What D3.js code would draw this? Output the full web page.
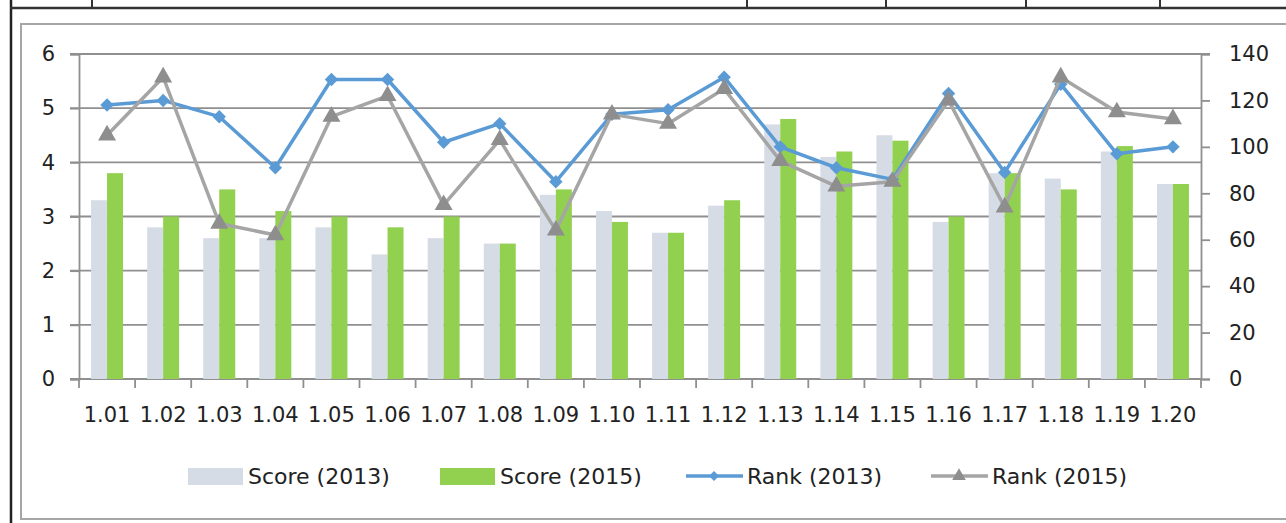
<!DOCTYPE html>
<html lang="en">
<head>
<meta charset="utf-8">
<script src="https://d3js.org/d3.v7.min.js"></script>
<style type="text/css">
body {
	margin: 0;
	background-color: #fff;
	font-family: "DejaVu Sans", sans-serif;
}
.axis text {
	font: 21px "DejaVu Sans", sans-serif;
	fill: #222;
}
.legend text {
	font: 22px "DejaVu Sans", sans-serif;
	fill: #222;
}
</style>
</head>
<body>
<div class="chart"></div>
<script type="text/javascript">
// chart data
var categories = ["1.01","1.02","1.03","1.04","1.05","1.06","1.07","1.08","1.09","1.10",
                  "1.11","1.12","1.13","1.14","1.15","1.16","1.17","1.18","1.19","1.20"];
var score2013 = [3.3,2.8,2.6,2.6,2.8,2.3,2.6,2.5,3.4,3.1,2.7,3.2,4.7,4.1,4.5,2.9,3.8,3.7,4.2,3.6];
var score2015 = [3.8,3.0,3.5,3.1,3.0,2.8,3.0,2.5,3.5,2.9,2.7,3.3,4.8,4.2,4.4,3.0,3.8,3.5,4.3,3.6];
var rank2013 = [118,120,113,91,129,129,102,110,85,114,116,130,100,91,86,123,89,127,97,100];
var rank2015 = [105,130,67,62,113,122,75,103,64,114,110,125,94,83,85,120,74,130,115,112];
var leftTicks = [0,1,2,3,4,5,6];
var rightTicks = [0,20,40,60,80,100,120,140];
var legendNames = ["Score (2013)","Score (2015)","Rank (2013)","Rank (2015)"];

var width = 1286, height = 523;
var gridColor = "#8f8f8f";

var svg = d3.select(".chart").append("svg")
	.attr("width", width)
	.attr("height", height);

// page table lines behind the chart
svg.append("line").attr("x1", 11).attr("x2", 11).attr("y1", 0).attr("y2", height)
	.style("stroke", "#222").style("stroke-width", 2.5);
svg.append("line").attr("x1", 10).attr("x2", width).attr("y1", 8).attr("y2", 8)
	.style("stroke", "#333").style("stroke-width", 2.5);
[92, 747, 886, 1026, 1160].forEach(function(x) {
	svg.append("line").attr("x1", x).attr("x2", x).attr("y1", 0).attr("y2", 8)
		.style("stroke", "#333").style("stroke-width", 2);
});

// chart frame
svg.append("rect")
	.attr("x", 21).attr("y", 24)
	.attr("width", width).attr("height", 495)
	.style("fill", "#fff")
	.style("stroke", "#a6a6a6")
	.style("stroke-width", 2);

var plotLeft = 79, plotRight = 1201, plotTop = 54, plotBottom = 379;

var x0 = d3.scaleBand().domain(categories).range([plotLeft, plotRight])
	.paddingInner(0.43).paddingOuter(0.215);
var x1 = d3.scaleBand().domain([0, 1]).range([0, x0.bandwidth()]);
var yL = d3.scaleLinear().domain([0, 6]).range([plotBottom, plotTop]);
var yR = d3.scaleLinear().domain([0, 140]).range([plotBottom, plotTop]);

// gridlines
svg.append("g").selectAll("line").data(leftTicks).enter().append("line")
	.attr("x1", plotLeft - 9).attr("x2", function(d) { return d === 6 ? plotRight + 9 : plotRight; })
	.attr("y1", function(d) { return yL(d); }).attr("y2", function(d) { return yL(d); })
	.style("stroke", gridColor).style("stroke-width", 1.8);

// left axis
var gl = svg.append("g").attr("class", "axis").attr("transform", "translate(" + plotLeft + ",0)")
	.call(d3.axisLeft(yL).tickValues(leftTicks).tickSize(9).tickPadding(15).tickFormat(d3.format("d")));
gl.select(".domain").style("stroke", gridColor).style("stroke-width", 1.8);
gl.selectAll(".tick line").style("stroke", gridColor).style("stroke-width", 1.8);

// right axis
var gr = svg.append("g").attr("class", "axis").attr("transform", "translate(" + plotRight + ",0)")
	.call(d3.axisRight(yR).tickValues(rightTicks).tickSize(9).tickPadding(19));
gr.select(".domain").style("stroke", gridColor).style("stroke-width", 1.8);
gr.selectAll(".tick line").style("stroke", gridColor).style("stroke-width", 1.8);

// bottom axis: ticks at category boundaries
var gb = svg.append("g").attr("class", "axis").attr("transform", "translate(0," + plotBottom + ")")
	.call(d3.axisBottom(x0).tickSize(0).tickPadding(28));
gb.select(".domain").style("stroke", gridColor).style("stroke-width", 1.8)
	.attr("d", "M" + plotLeft + ",0H" + plotRight);
var step = x0.step();
svg.append("g").selectAll("line").data(d3.range(categories.length + 1)).enter().append("line")
	.attr("x1", function(i) { return plotLeft + i * step; })
	.attr("x2", function(i) { return plotLeft + i * step; })
	.attr("y1", plotBottom).attr("y2", plotBottom + 9)
	.style("stroke", gridColor).style("stroke-width", 1.8);

// bars
var bars = [score2013, score2015];
var barColors = ["#d5dce6", "#92d050"];
bars.forEach(function(vals, s) {
	svg.append("g").selectAll("rect").data(vals).enter().append("rect")
		.attr("x", function(d, i) { return x0(categories[i]) + x1(s); })
		.attr("width", x1.bandwidth())
		.attr("y", function(d) { return yL(d); })
		.attr("height", function(d) { return plotBottom - yL(d); })
		.style("fill", barColors[s]);
});

// lines
var cx = function(d, i) { return x0(categories[i]) + x0.bandwidth() / 2; };
var line = d3.line().x(cx).y(function(d) { return yR(d); });
var lineColors = ["#5b9bd5", "#a5a5a5"];
var markColors = ["#5b9bd5", "#8e8e8e"];
var symbols = [d3.symbol().type(d3.symbolSquare).size(90), d3.symbol().type(d3.symbolTriangle).size(140)];
var legendSymbols = [d3.symbol().type(d3.symbolSquare).size(50), d3.symbol().type(d3.symbolTriangle).size(80)];
var symTf = ["rotate(45)", ""];
[rank2013, rank2015].forEach(function(vals, s) {
	svg.append("path").datum(vals)
		.attr("d", line)
		.style("fill", "none")
		.style("stroke", lineColors[s])
		.style("stroke-width", 3.5)
		.style("stroke-linejoin", "round");
	svg.append("g").selectAll("path").data(vals).enter().append("path")
		.attr("d", symbols[s])
		.attr("transform", function(d, i) { return "translate(" + cx(d, i) + "," + yR(d) + ")" + symTf[s]; })
		.style("fill", markColors[s]);
});

// legend
var legend = svg.append("g").attr("class", "legend");
var lx = [188, 440, 686, 931];
var ly = 476;
legendNames.forEach(function(name, i) {
	if (i < 2) {
		legend.append("rect").attr("x", lx[i]).attr("y", ly - 8).attr("width", 55).attr("height", 17)
			.style("fill", barColors[i]);
	} else {
		var c = i - 2;
		legend.append("line").attr("x1", lx[i]).attr("x2", lx[i] + 57).attr("y1", ly).attr("y2", ly)
			.style("stroke", lineColors[c]).style("stroke-width", 3.5);
		legend.append("path").attr("d", legendSymbols[c])
			.attr("transform", "translate(" + (lx[i] + 28) + "," + ly + ")" + symTf[c])
			.style("fill", markColors[c]);
	}
	legend.append("text").attr("x", lx[i] + (i < 2 ? 60 : 61)).attr("y", ly).attr("dy", "0.35em").text(name);
});
</script>
</body>
</html>
